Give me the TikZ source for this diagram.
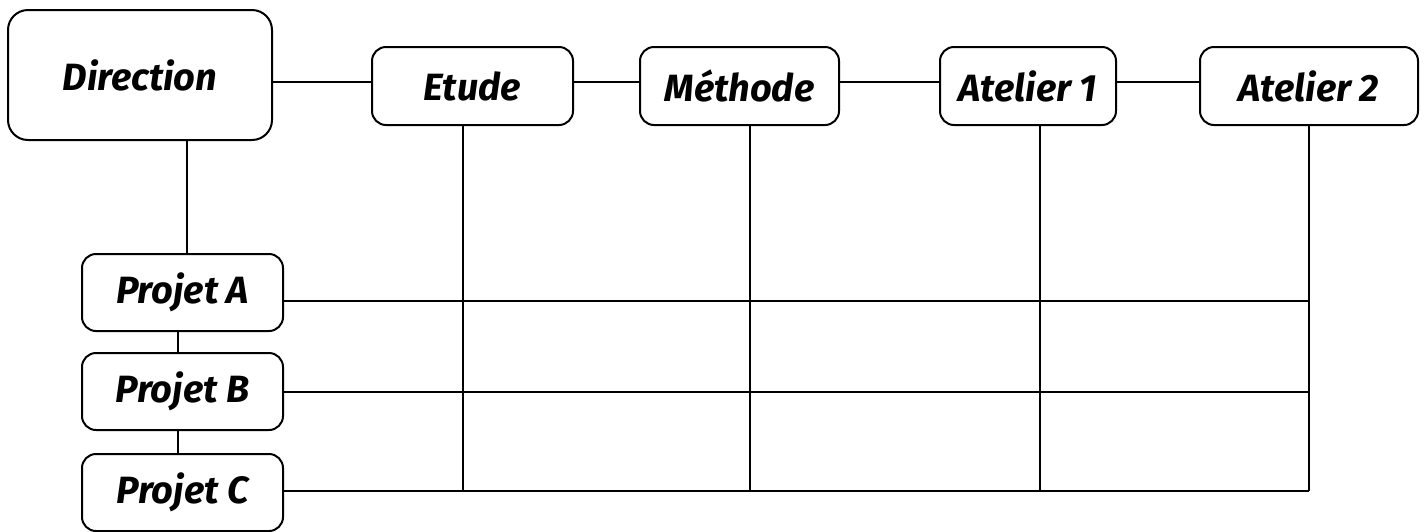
\documentclass[tikz,border=0pt]{standalone}
\usepackage{fontspec}
\setmainfont{Fira Sans}
\usetikzlibrary{positioning}
\tikzset{
  box/.style = {draw, line width=1pt, rounded corners=7pt, inner sep=0pt, outer sep=0pt,
                minimum height=39pt, font=\fontsize{19}{22}\selectfont\bfseries\itshape},
  link/.style = {line width=1pt}
}

\begin{document}
\begin{tikzpicture}[x=0.5pt, y=-0.5pt]
    \useasboundingbox (0,0) rectangle (1424,531);

    \node[box, minimum width=132pt, minimum height=65pt, rounded corners=10pt] (dir) at (140,75) {Direction};
    \node[box, minimum width=100.5pt] (etude) [right = 50pt of dir, yshift=-5.5pt] {Etude};
    \node[box, minimum width=99.5pt] (methode) [right = 33.5pt of etude] {Méthode};
    \node[box, minimum width=88pt] (atelier1) [right = 50.5pt of methode] {Atelier 1};
    \node[box, minimum width=109pt] (atelier2) [right = 42pt of atelier1] {Atelier 2};

    \node[box, minimum width=100.5pt, minimum height=38.5pt] (projA) [below = 57pt of dir, xshift=21.25pt] {Projet A};
    \node[box, minimum width=100.5pt, minimum height=38.5pt] (projB) [below = 11pt of projA] {Projet B};
    \node[box, minimum width=100.5pt, minimum height=38.5pt] (projC) [below = 12pt of projB] {Projet C};

    % top row
    \draw[link] ([yshift=2pt]etude.west -| dir.east) -- ([yshift=2pt]etude.west);
    \draw[link] ([yshift=2pt]etude.east) -- ([yshift=2pt]methode.west)
                ([yshift=2pt]methode.east) -- ([yshift=2pt]atelier1.west)
                ([yshift=2pt]atelier1.east) -- ([yshift=2pt]atelier2.west);

    % projets
    \draw[link] ([xshift=2pt]dir.south -| projA.north) -- ([xshift=2pt]projA.north);
    \draw[link] ([xshift=-2.5pt]projA.south) -- ([xshift=-2.5pt]projB.north)
                ([xshift=-2.5pt]projB.south) -- ([xshift=-2.5pt]projC.north);

    % grid
    \foreach \p/\dy in {projA/-4pt, projB/0pt, projC/1pt}
        \draw[link] ([yshift=\dy]\p.east) -- ([yshift=\dy]\p.east -| atelier2.south);
    \draw[link] ([xshift=-5pt]etude.south) -- ([xshift=-5pt,yshift=1pt]etude.south |- projC.east);
    \draw[link] ([xshift=5pt]methode.south) -- ([xshift=5pt,yshift=1pt]methode.south |- projC.east);
    \draw[link] ([xshift=6pt]atelier1.south) -- ([xshift=6pt,yshift=1pt]atelier1.south |- projC.east);
    \draw[link] (atelier2.south) -- ([yshift=1pt]atelier2.south |- projC.east);
\end{tikzpicture}
\end{document}
